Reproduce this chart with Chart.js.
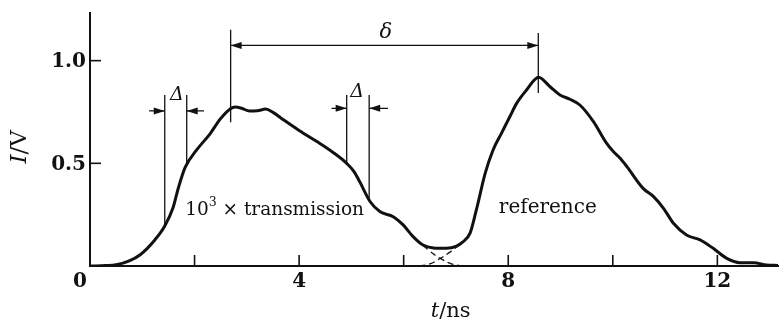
<!DOCTYPE html>
<html>
<head>
<meta charset="UTF-8">
<title>Transmission and reference pulse</title>
<script src="https://cdn.jsdelivr.net/npm/chart.js@4.4.0/dist/chart.umd.min.js"></script>
<style>
  html, body { margin: 0; padding: 0; background: #fff; }
  .chart-box { position: relative; width: 783px; height: 325px; }
</style>
</head>
<body>
<div class="chart-box"><canvas id="pulseChart"></canvas></div>
<script>
// measured signal (solid curve): t in ns, I in V
const timeNs = [0, 0.3, 0.5, 0.75, 0.96, 1.24, 1.43, 1.59, 1.69, 1.82, 2.04, 2.3, 2.49, 2.68, 2.78, 2.9,
  3.05, 3.2, 3.36, 3.5, 3.7, 4.0, 4.34, 4.65, 4.91, 5.05, 5.16, 5.36, 5.55, 5.8, 5.99, 6.18, 6.37,
  6.57, 6.82, 7.0, 7.12, 7.27, 7.39, 7.56, 7.71, 7.87, 8.03, 8.16, 8.35, 8.58, 8.8, 8.99, 9.18,
  9.37, 9.63, 9.88, 10.01, 10.14, 10.27, 10.58, 10.78, 10.97, 11.16, 11.41, 11.67, 11.92, 12.18,
  12.43, 12.69, 12.94, 13.16];
const signalV = [0, 0.002, 0.006, 0.025, 0.055, 0.127, 0.195, 0.285, 0.38, 0.48, 0.565, 0.645, 0.715, 0.765, 0.774, 0.768,
  0.755, 0.756, 0.764, 0.748, 0.712, 0.66, 0.606, 0.553, 0.5, 0.46, 0.41, 0.313, 0.264, 0.24, 0.2, 0.143, 0.102,
  0.088, 0.086, 0.095, 0.115, 0.16, 0.273, 0.452, 0.565, 0.646, 0.727, 0.792, 0.857, 0.919, 0.873, 0.833, 0.812,
  0.784, 0.703, 0.598, 0.557, 0.525, 0.484, 0.378, 0.338, 0.281, 0.208, 0.151, 0.127, 0.086, 0.037,
  0.016, 0.016, 0.005, 0.003];

// dashed tail of the transmitted pulse
const tailTimeNs = [6.37, 6.5, 6.7, 6.9, 7.1];
const tailV = [0.1, 0.072, 0.037, 0.012, 0];
// dashed onset of the reference pulse
const onsetTimeNs = [6.3, 6.5, 6.7, 6.9, 7.05];
const onsetV = [0, 0.01, 0.037, 0.07, 0.1];

const xTicks = [0, 2, 4, 6, 8, 10, 12];
const xTickLabels = ['0', '', '4', '', '8', '', '12'];
const yTicks = [0.5, 1.0];
const yTickLabels = ['0.5', '1.0'];

// rise/fall width markers (Delta) and pulse delay (delta), data units
const widthMarks = [
  { t1: 1.43, t2: 1.85, top: 0.833, arrowI: 0.755, from1: 1.13, from2: 2.18, labelT: 1.66, labelI: 0.83 },
  { t1: 4.91, t2: 5.34, top: 0.833, arrowI: 0.768, from1: 4.62, from2: 5.7, labelT: 5.11, labelI: 0.845 }
];
const delayMark = { t1: 2.69, t2: 8.575, top1: 1.15, bottom1: 0.7, top2: 1.135, bottom2: 0.843, arrowI: 1.074, labelT: 5.66, labelI: 1.135 };

const INK = '#111';
const SERIF = '"DejaVu Serif", "Liberation Serif", serif';

function toPoints(xs, ys) {
  return xs.map((x, k) => ({ x: x, y: ys[k] }));
}

function curveAt(t) {
  for (let k = 0; k < timeNs.length - 1; k++) {
    if (t >= timeNs[k] && t <= timeNs[k + 1]) {
      const f = (t - timeNs[k]) / (timeNs[k + 1] - timeNs[k]);
      return signalV[k] + f * (signalV[k + 1] - signalV[k]);
    }
  }
  return 0;
}

function arrowHead(ctx, x, y, dir) {
  // dir: +1 points right, -1 points left
  ctx.beginPath();
  ctx.moveTo(x, y);
  ctx.lineTo(x - dir * 11, y - 3.5);
  ctx.lineTo(x - dir * 11, y + 3.5);
  ctx.closePath();
  ctx.fill();
}

// text pieces with their own style; align 'center' or 'left' at (x0, cy)
function mixedText(ctx, parts, x0, cy, align) {
  let total = 0;
  parts.forEach(p => {
    ctx.font = (p.italic ? 'italic ' : '') + p.size + 'px ' + SERIF;
    p.w = ctx.measureText(p.s).width;
    total += p.w;
  });
  let x = align === 'center' ? x0 - total / 2 : x0;
  ctx.textAlign = 'left';
  ctx.textBaseline = 'middle';
  parts.forEach(p => {
    ctx.font = (p.italic ? 'italic ' : '') + p.size + 'px ' + SERIF;
    ctx.fillText(p.s, x, cy - (p.raise || 0));
    x += p.w;
  });
}

const annotate = {
  id: 'annotate',
  afterDraw(chart) {
    const ctx = chart.ctx;
    const xs = chart.scales.x, ys = chart.scales.y;
    const X = v => xs.getPixelForValue(v);
    const Y = v => ys.getPixelForValue(v);
    const area = chart.chartArea;
    ctx.save();
    ctx.strokeStyle = INK;
    ctx.fillStyle = INK;

    // inward tick marks
    ctx.lineWidth = 1.6;
    xTicks.forEach(v => {
      if (v === 0) return;
      ctx.beginPath();
      ctx.moveTo(X(v), area.bottom);
      ctx.lineTo(X(v), area.bottom - 11);
      ctx.stroke();
    });
    yTicks.forEach(v => {
      ctx.beginPath();
      ctx.moveTo(area.left, Y(v));
      ctx.lineTo(area.left + 11, Y(v));
      ctx.stroke();
    });

    // tick labels
    ctx.font = 'bold 20px ' + SERIF;
    ctx.textBaseline = 'middle';
    ctx.textAlign = 'center';
    xTicks.forEach((v, k) => {
      if (!xTickLabels[k]) return;
      const shift = v === 0 ? -10 : 0;
      ctx.fillText(xTickLabels[k], X(v) + shift, area.bottom + 16);
    });
    ctx.textAlign = 'right';
    yTicks.forEach((v, k) => ctx.fillText(yTickLabels[k], area.left - 4, Y(v) + 1));

    // axis titles
    mixedText(ctx, [{ s: 't', italic: true, size: 21 }, { s: '/ns', size: 21 }], X(6.9), area.bottom + 46, 'center');
    ctx.save();
    ctx.translate(20, Y(0.58));
    ctx.rotate(-Math.PI / 2);
    mixedText(ctx, [{ s: 'I', italic: true, size: 23 }, { s: '/V', size: 23 }], 0, 0, 'center');
    ctx.restore();

    // Delta markers
    ctx.lineWidth = 1.3;
    widthMarks.forEach(m => {
      [[m.t1, curveAt(m.t1)], [m.t2, curveAt(m.t2)]].forEach(([t, b]) => {
        ctx.beginPath();
        ctx.moveTo(X(t), Y(m.top));
        ctx.lineTo(X(t), Y(b));
        ctx.stroke();
      });
      const ay = Y(m.arrowI);
      ctx.beginPath();
      ctx.moveTo(X(m.from1), ay); ctx.lineTo(X(m.t1), ay);
      ctx.moveTo(X(m.from2), ay); ctx.lineTo(X(m.t2), ay);
      ctx.stroke();
      arrowHead(ctx, X(m.t1), ay, 1);
      arrowHead(ctx, X(m.t2), ay, -1);
      ctx.font = 'italic 19px ' + SERIF;
      ctx.textAlign = 'center';
      ctx.textBaseline = 'middle';
      ctx.fillText('Δ', X(m.labelT), Y(m.labelI));
    });

    // delta delay marker
    const d = delayMark;
    ctx.beginPath();
    ctx.moveTo(X(d.t1), Y(d.top1)); ctx.lineTo(X(d.t1), Y(d.bottom1));
    ctx.moveTo(X(d.t2), Y(d.top2)); ctx.lineTo(X(d.t2), Y(d.bottom2));
    ctx.moveTo(X(d.t1), Y(d.arrowI)); ctx.lineTo(X(d.t2), Y(d.arrowI));
    ctx.stroke();
    arrowHead(ctx, X(d.t1), Y(d.arrowI), -1);
    arrowHead(ctx, X(d.t2), Y(d.arrowI), 1);
    ctx.font = 'italic 21px ' + SERIF;
    ctx.textAlign = 'center';
    ctx.fillText('δ', X(d.labelT), Y(d.labelI));

    // curve labels
    mixedText(ctx, [
      { s: '10', size: 18.5 },
      { s: '3', size: 12.5, raise: 7 },
      { s: ' × transmission', size: 18.5 }
    ], X(1.82), Y(0.273), 'left');
    mixedText(ctx, [{ s: 'reference', size: 20 }], X(7.82), Y(0.283), 'left');

    ctx.restore();
  }
};

new Chart(document.getElementById('pulseChart'), {
  type: 'scatter',
  data: {
    datasets: [
      {
        label: 'signal',
        data: toPoints(timeNs, signalV),
        showLine: true,
        borderColor: INK,
        borderWidth: 3,
        pointRadius: 0,
        cubicInterpolationMode: 'monotone'
      },
      {
        label: 'transmission tail',
        data: toPoints(tailTimeNs, tailV),
        showLine: true,
        borderColor: INK,
        borderWidth: 1.3,
        borderDash: [6, 4],
        pointRadius: 0,
        tension: 0.4
      },
      {
        label: 'reference onset',
        data: toPoints(onsetTimeNs, onsetV),
        showLine: true,
        borderColor: INK,
        borderWidth: 1.3,
        borderDash: [6, 4],
        pointRadius: 0,
        tension: 0.4
      }
    ]
  },
  options: {
    responsive: true,
    maintainAspectRatio: false,
    animation: false,
    layout: { padding: { top: 13, right: 5, left: 0, bottom: 0 } },
    plugins: {
      legend: { display: false },
      tooltip: { enabled: false }
    },
    scales: {
      x: {
        type: 'linear',
        min: 0,
        max: 13.16,
        grid: { display: false },
        border: { display: true, color: INK, width: 2 },
        ticks: { display: false },
        afterFit: s => { s.height = 59; }
      },
      y: {
        type: 'linear',
        min: 0,
        max: 1.232,
        grid: { display: false },
        border: { display: true, color: INK, width: 2 },
        ticks: { display: false },
        afterFit: s => { s.width = 90; }
      }
    }
  },
  plugins: [annotate]
});
</script>
</body>
</html>
